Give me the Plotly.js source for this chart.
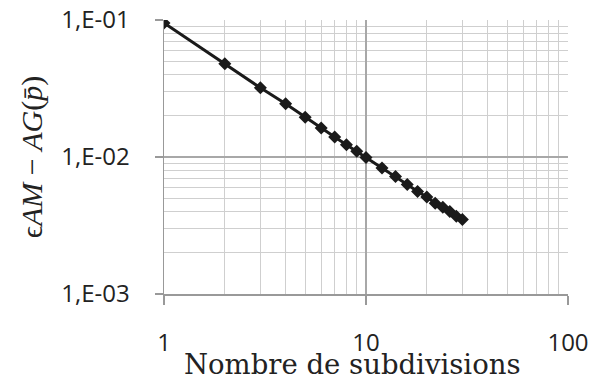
<!DOCTYPE html>
<html><head><meta charset="utf-8">
<script src="https://cdn.plot.ly/plotly-3.0.1.min.js"></script>
<style>html,body{margin:0;padding:0;background:#fff;}#chart{width:593px;height:381px;}</style>
</head><body><div id="chart"></div>
<script>
const subdivisions = [1,2,3,4,5,6,7,8,9,10,12,14,16,18,20,22,24,26,28,30];
const errors = [0.095,0.048,0.032,0.0245,0.0195,0.0163,0.014,0.0123,0.011,0.0099,0.0083,0.0072,0.0063,0.0056,0.0051,0.0046,0.0043,0.0040,0.0037,0.0035];
const xTickVals = [1,10,100];
const xTickText = ['1','10','100'];
const yTickVals = [0.001,0.01,0.1];
const yTickText = ['1,E-03','1,E-02','1,E-01'];
const xTitle = 'Nombre de subdivisions';
const yTitle = 'ϵ<i>AM</i> − <i>AG</i>(<i>p̄</i>)';

const trace = {
  x: subdivisions, y: errors, type: 'scatter', mode: 'lines+markers',
  line: {color: '#1a1a1a', width: 3},
  marker: {symbol: 'diamond', size: 10, color: '#1a1a1a'}
};
const tickFont = {family: 'Open Sans, Liberation Sans, sans-serif', size: 24, color: '#222'};
const layout = {
  width: 593, height: 381,
  margin: {l: 164, r: 25, t: 20, b: 87},
  paper_bgcolor: '#fff', plot_bgcolor: '#fff',
  showlegend: false,
  xaxis: {
    type: 'log', range: [0, 2],
    tickvals: xTickVals, ticktext: xTickText,
    ticks: 'outside', ticklen: 9, tickcolor: '#999', tickwidth: 1.5,
    ticklabelstandoff: 18,
    showline: true, linecolor: '#999', linewidth: 1.5,
    showgrid: true, gridcolor: '#a8a8a8', gridwidth: 1.3,
    minor: {dtick: 'D1', showgrid: true, gridcolor: '#cfcfcf', gridwidth: 1.3},
    tickfont: tickFont,
    zeroline: false
  },
  yaxis: {
    type: 'log', range: [-3, -1],
    tickvals: yTickVals, ticktext: yTickText,
    ticks: 'outside', ticklen: 8, tickcolor: '#999', tickwidth: 1.5,
    ticklabelstandoff: 20,
    showline: true, linecolor: '#999', linewidth: 1.5,
    showgrid: true, gridcolor: '#a8a8a8', gridwidth: 1.3,
    minor: {dtick: 'D1', showgrid: true, gridcolor: '#cfcfcf', gridwidth: 1.3},
    tickfont: tickFont,
    zeroline: false,
    title: {text: yTitle, font: {family: 'Liberation Serif, DejaVu Serif, serif', size: 30, color: '#222'}, standoff: 10}
  },
  annotations: [{
    text: xTitle, xref: 'paper', yref: 'paper', x: 0.4666, y: -0.255,
    xanchor: 'center', yanchor: 'middle', showarrow: false,
    font: {family: 'DejaVu Serif, Liberation Serif, serif', size: 27.5, color: '#222'}
  }]
};
Plotly.newPlot('chart', [trace], layout, {displayModeBar: false, staticPlot: true});
</script></body></html>
